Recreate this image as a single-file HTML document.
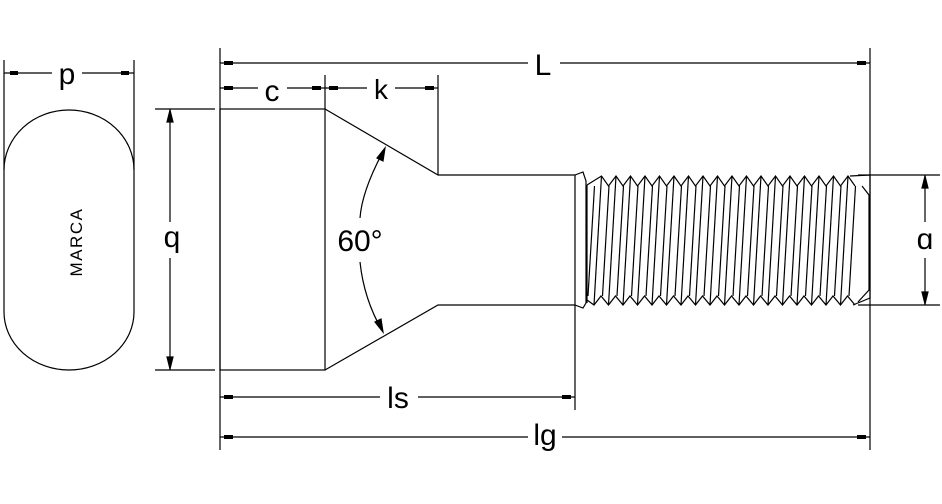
<!DOCTYPE html>
<html><head><style>
html,body{margin:0;padding:0;background:#fff;}
svg{display:block;}
text{font-family:"Liberation Sans","DejaVu Sans",sans-serif;font-weight:normal;fill:#000;}
</style></head><body>
<svg id="s" width="942" height="504" viewBox="0 0 942 504" xmlns="http://www.w3.org/2000/svg" stroke="#000" stroke-width="1.2" fill="none">
<path d="M4,170 A65,60 0 0 1 134,170 L134,312 A65,58 0 0 1 4,312 Z"/>
<text x="82" y="242" font-size="17" letter-spacing="1.5" stroke="none" text-anchor="middle" transform="rotate(-90 82 242)">MARCA</text>
<line x1="4" y1="60" x2="4" y2="170"/><line x1="134" y1="60" x2="134" y2="170"/>
<line x1="4" y1="73" x2="52" y2="73"/><line x1="82" y1="73" x2="134" y2="73"/>
<rect x="10" y="71" width="8" height="4" fill="#000" stroke="none"/><rect x="121" y="71" width="8" height="4" fill="#000" stroke="none"/>
<text x="67" y="84" font-size="30" stroke="none" text-anchor="middle">p</text>
<rect x="220" y="109" width="105" height="261"/>
<polyline points="325,109 438,175 575,175 575,305 438,305 325,370"/>
<polyline points="575,175 583,172 586,181 586,303 583,308 575,305"/>
<line x1="587" y1="185" x2="587" y2="303"/>
<g id="thr"></g>
<polyline points="850,176 870,175 870,298 853,305"/>
<polyline points="862,186 869,195 869,290 858,302"/>
<line x1="220" y1="48" x2="220" y2="450"/><line x1="870" y1="48" x2="870" y2="450"/>
<line x1="220" y1="63" x2="528" y2="63"/><line x1="560" y1="63" x2="870" y2="63"/>
<rect x="224" y="61" width="9" height="4" fill="#000" stroke="none"/><rect x="857" y="61" width="9" height="4" fill="#000" stroke="none"/>
<text x="543" y="75" font-size="30" stroke="none" text-anchor="middle">L</text>
<line x1="325" y1="75" x2="325" y2="109"/><line x1="438" y1="75" x2="438" y2="175"/>
<line x1="220" y1="88" x2="258" y2="88"/><line x1="287" y1="88" x2="325" y2="88"/>
<line x1="325" y1="88" x2="367" y2="88"/><line x1="395" y1="88" x2="438" y2="88"/>
<rect x="224" y="86" width="9" height="4" fill="#000" stroke="none"/><rect x="312" y="86" width="9" height="4" fill="#000" stroke="none"/>
<rect x="329" y="86" width="9" height="4" fill="#000" stroke="none"/><rect x="425" y="86" width="9" height="4" fill="#000" stroke="none"/>
<text x="272" y="101" font-size="30" stroke="none" text-anchor="middle">c</text>
<text x="381" y="99" font-size="28" stroke="none" text-anchor="middle">k</text>
<line x1="155" y1="109" x2="215" y2="109"/><line x1="155" y1="370" x2="215" y2="370"/>
<line x1="170" y1="109" x2="170" y2="222"/><line x1="170" y1="258" x2="170" y2="370"/>
<polygon points="170,110 167,122 173,122" fill="#000"/><polygon points="170,369 167,357 173,357" fill="#000"/>
<text x="172" y="247" font-size="30" stroke="none" text-anchor="middle">q</text>
<line x1="858" y1="175" x2="940" y2="175"/><line x1="858" y1="305" x2="940" y2="305"/>
<line x1="925" y1="175" x2="925" y2="222"/><line x1="925" y1="258" x2="925" y2="305"/>
<polygon points="925,176 922,188 928,188" fill="#000"/><polygon points="925,304 922,292 928,292" fill="#000"/>
<text x="925" y="249" font-size="30" stroke="none" text-anchor="middle">ɑ</text>
<path d="M385,148 Q362,190 360,218"/><path d="M360,262 Q364,300 383,332"/>
<polygon points="385,148 377,158 383,161" fill="#000"/><polygon points="383,332 375,322 381,319" fill="#000"/>
<text x="360" y="251" font-size="30" stroke="none" text-anchor="middle">60°</text>
<line x1="575" y1="305" x2="575" y2="410"/>
<line x1="220" y1="397" x2="380" y2="397"/><line x1="418" y1="397" x2="575" y2="397"/>
<rect x="224" y="395" width="9" height="4" fill="#000" stroke="none"/><rect x="562" y="395" width="9" height="4" fill="#000" stroke="none"/>
<text x="398" y="408" font-size="30" stroke="none" text-anchor="middle">ls</text>
<line x1="220" y1="437" x2="528" y2="437"/><line x1="562" y1="437" x2="870" y2="437"/>
<rect x="224" y="435" width="9" height="4" fill="#000" stroke="none"/><rect x="857" y="435" width="9" height="4" fill="#000" stroke="none"/>
<text x="545" y="445" font-size="30" stroke="none" text-anchor="middle">lg</text>
</svg>
<script>
(function(){
var g=document.getElementById('thr'),p=14.5;
var top='M587,185',bot='M587,300';
for(var i=0;i<18;i++){
 var x=594+i*p;
 top+=' L'+(x+7.5)+',176 L'+(x+14.5)+',186';
 bot+=' L'+x+',305 L'+(x+7)+',296';
}
bot+=' L'+(594+18*p)+',305';
var html='<path d="'+top+'"/><path d="'+bot+'"/>';
for(var i=0;i<19;i++){
 var xt=601.5+i*p, xb=594+i*p;
 if(i<18) html+='<line x1="'+xt+'" y1="176" x2="'+xb+'" y2="305"/>';
 html+='<line x1="'+(xt-7)+'" y1="186" x2="'+(xb-6)+'" y2="296"/>';
}
g.innerHTML=html;
})();
</script>
</body></html>
